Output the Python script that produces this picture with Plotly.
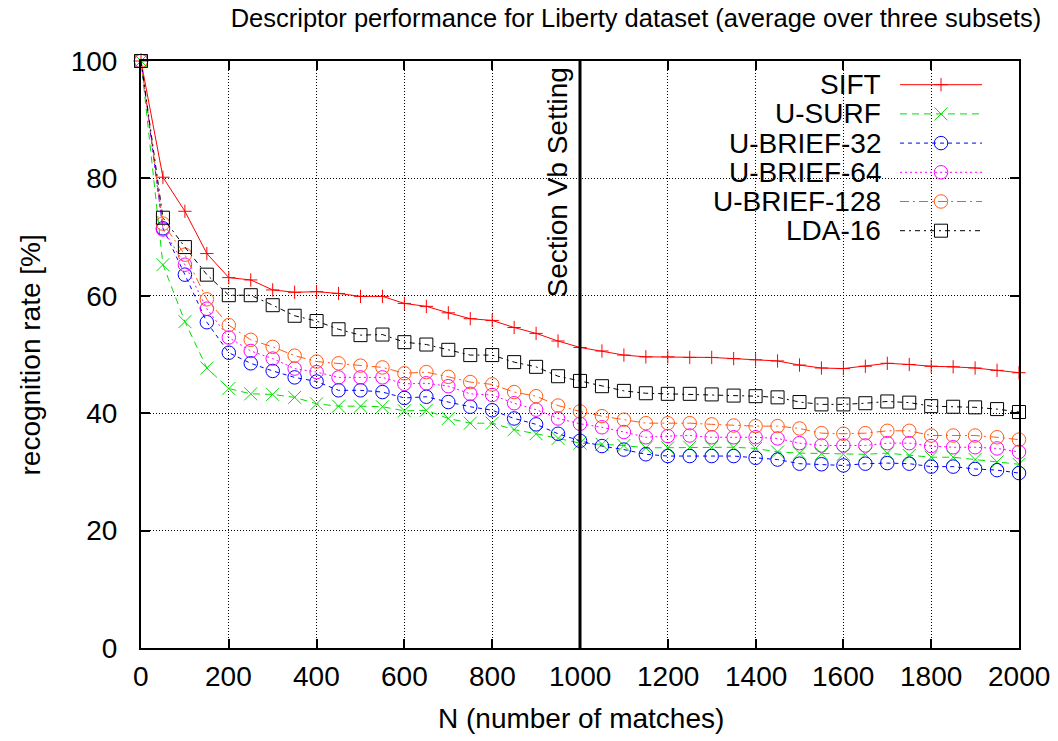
import plotly.graph_objects as go

N = list(range(0, 2001, 50))

SIFT = [100, 80.2, 74.4, 67.2, 63.1, 62.7, 61.0, 60.6, 60.7, 60.4, 59.9, 59.9, 58.7, 58.2,
        57.1, 56.1, 55.8, 54.6, 53.6, 52.3, 51.2, 50.6, 49.9, 49.6, 49.6, 49.5, 49.5, 49.3,
        49.1, 48.9, 48.2, 47.7, 47.6, 48.0, 48.5, 48.3, 48.0, 47.9, 47.7, 47.3, 46.9]
U_SURF = [100, 65.3, 55.6, 47.7, 44.2, 43.3, 43.2, 42.7, 41.6, 41.2, 41.2, 41.1, 40.4, 40.5,
          39.1, 38.3, 38.3, 37.2, 36.5, 35.7, 34.9, 34.7, 34.5, 34.1, 34.1, 34.2, 34.2, 34.2,
          34.0, 33.4, 33.2, 33.1, 33.0, 33.0, 33.2, 32.8, 32.5, 32.5, 32.1, 31.7, 31.3]
U_BRIEF_32 = [100, 71.5, 63.6, 55.5, 50.3, 48.5, 47.2, 46.1, 45.4, 43.9, 43.9, 43.6, 42.6, 42.8,
              41.9, 41.1, 40.5, 39.1, 38.1, 36.5, 35.3, 34.4, 33.8, 33.0, 32.7, 32.7, 32.7, 32.7,
              32.4, 32.1, 31.4, 31.3, 31.1, 31.4, 31.5, 31.4, 30.9, 30.9, 30.5, 30.3, 29.8]
U_BRIEF_64 = [100, 71.3, 65.3, 57.8, 52.9, 50.6, 49.3, 47.6, 47.0, 46.1, 46.1, 46.1, 45.0, 45.1,
              44.6, 43.3, 43.1, 41.7, 40.6, 39.1, 38.2, 37.6, 36.8, 35.9, 36.1, 36.2, 35.9, 35.9,
              35.9, 35.7, 34.9, 34.5, 34.5, 34.5, 34.9, 34.9, 34.4, 34.2, 34.2, 34.0, 33.4]
U_BRIEF_128 = [100, 72.3, 67.0, 59.4, 55.0, 52.5, 51.3, 49.8, 48.8, 48.5, 48.1, 47.8, 46.8, 47.0,
               46.2, 45.3, 44.9, 43.6, 42.9, 41.3, 40.3, 39.5, 38.9, 38.3, 38.3, 38.3, 38.1, 37.9,
               37.8, 37.8, 37.4, 36.6, 36.5, 36.6, 37.0, 37.0, 36.2, 36.2, 36.2, 35.9, 35.5]
LDA_16 = [100, 73.3, 68.3, 63.6, 60.1, 60.1, 58.4, 56.6, 55.7, 54.3, 53.3, 53.4, 52.1, 51.7,
          50.8, 49.9, 49.9, 48.7, 47.9, 46.3, 45.5, 44.6, 43.8, 43.4, 43.3, 43.3, 43.2, 43.0,
          42.9, 42.7, 41.9, 41.5, 41.5, 41.7, 42.0, 41.8, 41.2, 41.1, 41.0, 40.7, 40.2]

SERIES_NAMES = ["SIFT", "U-SURF", "U-BRIEF-32", "U-BRIEF-64", "U-BRIEF-128", "LDA-16"]
SERIES_VALUES = [SIFT, U_SURF, U_BRIEF_32, U_BRIEF_64, U_BRIEF_128, LDA_16]
SECTION_N = 1000
SECTION_LABEL = "Section Vb Setting"
X_TICKS = list(range(0, 2001, 200))
X_TICK_LABELS = [str(v) for v in X_TICKS]
Y_TICKS = list(range(0, 101, 20))

COLORS = ["#ff0000", "#00e000", "#0000ff", "#ff00ff", "#ff5a14", "#000000"]
DASHES = ["solid", "7px,5px", "4px,4px", "2px,3px", "9px,4px,2px,4px", "5px,4px,2px,4px"]
SYMBOLS = ["cross-thin-open", "x-thin-open", "circle-open", "circle-open", "circle-open", "square-open"]
SIZES = [9.5, 13, 13.5, 13.5, 13.5, 13]

FONT = "Liberation Sans, Arial, Helvetica, sans-serif"
FS = 28

# plot area in pixels
L, R, T, B = 141, 1019, 61, 648
W, H = 1058, 741

fig = go.Figure()

for name, vals, c, d, s, sz in zip(SERIES_NAMES, SERIES_VALUES, COLORS, DASHES, SYMBOLS, SIZES):
    fig.add_trace(go.Scatter(
        x=N, y=vals, mode="lines+markers", name=name, showlegend=False,
        line=dict(color=c, width=1, dash=d),
        marker=dict(symbol=s, size=sz, color=c, line=dict(color=c, width=1)),
        cliponaxis=False,
    ))

# section line
fig.add_trace(go.Scatter(x=[SECTION_N, SECTION_N], y=[0, 100], mode="lines",
                         line=dict(color="black", width=3), showlegend=False, hoverinfo="skip"))

# custom gnuplot-style key on pixel overlay axes
row0, dy = 84.7, 29.2
for i, (name, c, d, s, sz) in enumerate(zip(SERIES_NAMES, COLORS, DASHES, SYMBOLS, SIZES)):
    yy = row0 + i * dy
    fig.add_trace(go.Scatter(x=[900, 982], y=[yy, yy], mode="lines", xaxis="x2", yaxis="y2",
                             line=dict(color=c, width=1, dash=d), showlegend=False, hoverinfo="skip"))
    fig.add_trace(go.Scatter(x=[941], y=[yy], mode="markers", xaxis="x2", yaxis="y2",
                             marker=dict(symbol=s, size=sz, color=c, line=dict(color=c, width=1)),
                             showlegend=False, hoverinfo="skip"))
    fig.add_annotation(x=883, y=yy, xref="x2", yref="y2", text=name, showarrow=False,
                       xanchor="right", yanchor="middle", font=dict(family=FONT, size=FS, color="black"))

# opaque key box (hides grid behind the key)
fig.add_shape(type="rect", xref="paper", yref="paper",
              x0=(692 - L) / (R - L), x1=(1008 - L) / (R - L),
              y0=(B - 246) / (B - T), y1=(B - 63) / (B - T),
              fillcolor="white", line=dict(width=0), layer="between")

fig.add_annotation(x=SECTION_N, y=100, xref="x", yref="y", text=SECTION_LABEL, textangle=-90,
                   showarrow=False, xanchor="right", yanchor="top", xshift=-6, yshift=-5,
                   font=dict(family=FONT, size=FS, color="black"))

# x tick labels
for v, lab in zip(X_TICKS, X_TICK_LABELS):
    fig.add_annotation(x=v, y=(B - 676) / (B - T), xref="x", yref="paper", text=lab,
                       showarrow=False, xanchor="center", yanchor="middle",
                       font=dict(family=FONT, size=FS, color="black"))

# axis titles
fig.add_annotation(x=(30 - L) / (R - L), y=0.5, xref="paper", yref="paper", text="recognition rate [%]",
                   textangle=-90, showarrow=False, xanchor="center", yanchor="middle",
                   font=dict(family=FONT, size=FS, color="black"))
fig.add_annotation(x=(581 - L) / (R - L), y=(B - 718) / (B - T), xref="paper", yref="paper",
                   text="N (number of matches)", showarrow=False, xanchor="center", yanchor="middle",
                   font=dict(family=FONT, size=FS, color="black"))

axis_common = dict(showline=True, linecolor="black", linewidth=2, mirror="ticks",
                   ticks="inside", ticklen=9, tickwidth=1.5, tickcolor="black",
                   showgrid=True, gridcolor="black", gridwidth=1, griddash="1px,2px",
                   zeroline=False, tickfont=dict(family=FONT, size=FS, color="black"))

fig.update_layout(
    width=W, height=H, autosize=False,
    margin=dict(l=L, r=W - R, t=T, b=H - B, pad=0),
    paper_bgcolor="white", plot_bgcolor="white",
    title=dict(text="Descriptor performance for Liberty dataset (average over three subsets)",
               x=636 / W, xanchor="center", xref="container", y=1 - 18 / H, yanchor="middle",
               yref="container", font=dict(family=FONT, size=25.5, color="black")),
    xaxis=dict(range=[0, 2000], tickvals=X_TICKS, showticklabels=False, **axis_common),
    yaxis=dict(range=[0, 100], tickvals=Y_TICKS, ticklabelstandoff=16, **axis_common),
    xaxis2=dict(range=[L, R], overlaying="x", anchor="y2", visible=False, fixedrange=True),
    yaxis2=dict(range=[B, T], overlaying="y", anchor="x2", visible=False, fixedrange=True),
)

fig.write_html("out.html")
